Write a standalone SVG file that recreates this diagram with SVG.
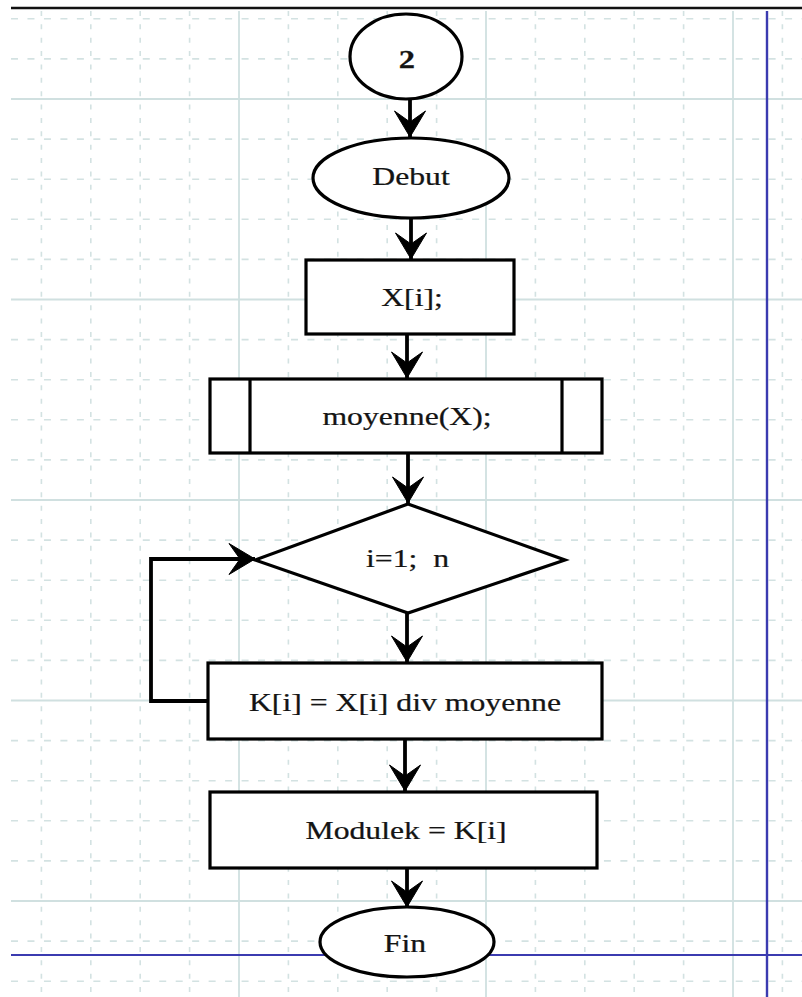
<svg xmlns="http://www.w3.org/2000/svg" width="802" height="997" viewBox="0 0 802 997">
  <style>
    .gd { stroke: #d3e2e2; stroke-width: 1.6; fill: none; }
    .gh { stroke-dasharray: 7 9.47; }
    .gv { stroke-dasharray: 5 8.37; }
    .gs { stroke: #d0e0e0; stroke-width: 1.8; fill: none; }
    .shape { fill: #ffffff; stroke: #000000; stroke-width: 3.2; }
    .conn { fill: none; stroke: #000000; stroke-width: 3.8; }
    .lbl { font-family: "Liberation Serif", "Times New Roman", serif; font-size: 26px; fill: #141414; text-anchor: middle; stroke: #141414; stroke-width: 0.25; }
  </style>
  <defs>
    <marker id="arrow" markerUnits="userSpaceOnUse" markerWidth="30" markerHeight="34" viewBox="-28 -17 30 34" refX="0" refY="0" orient="auto">
      <path d="M0,0 L-26,-15.5 L-15,0 L-26,15.5 Z" fill="#000000" stroke="#000000" stroke-width="1" stroke-linejoin="round"/>
    </marker>
  </defs>

  <rect x="0" y="0" width="802" height="997" fill="#ffffff"/>

  <!-- background grid -->
  <g id="grid">
    <g class="gd gh">
      <line x1="11" y1="18.8" x2="802" y2="18.8"/>
      <line x1="11" y1="58.9" x2="802" y2="58.9"/>
      <line x1="11" y1="139.1" x2="802" y2="139.1"/>
      <line x1="11" y1="179.2" x2="802" y2="179.2"/>
      <line x1="11" y1="219.3" x2="802" y2="219.3"/>
      <line x1="11" y1="259.4" x2="802" y2="259.4"/>
      <line x1="11" y1="339.6" x2="802" y2="339.6"/>
      <line x1="11" y1="379.7" x2="802" y2="379.7"/>
      <line x1="11" y1="419.8" x2="802" y2="419.8"/>
      <line x1="11" y1="459.9" x2="802" y2="459.9"/>
      <line x1="11" y1="540.1" x2="802" y2="540.1"/>
      <line x1="11" y1="580.2" x2="802" y2="580.2"/>
      <line x1="11" y1="620.3" x2="802" y2="620.3"/>
      <line x1="11" y1="660.4" x2="802" y2="660.4"/>
      <line x1="11" y1="740.6" x2="802" y2="740.6"/>
      <line x1="11" y1="780.7" x2="802" y2="780.7"/>
      <line x1="11" y1="820.8" x2="802" y2="820.8"/>
      <line x1="11" y1="860.9" x2="802" y2="860.9"/>
      <line x1="11" y1="941.1" x2="802" y2="941.1"/>
      <line x1="11" y1="981.2" x2="802" y2="981.2"/>
    </g>
    <g class="gd gv">
      <line x1="41.4" y1="11" x2="41.4" y2="997"/>
      <line x1="90.8" y1="11" x2="90.8" y2="997"/>
      <line x1="140.2" y1="11" x2="140.2" y2="997"/>
      <line x1="189.6" y1="11" x2="189.6" y2="997"/>
      <line x1="288.4" y1="11" x2="288.4" y2="997"/>
      <line x1="337.8" y1="11" x2="337.8" y2="997"/>
      <line x1="387.2" y1="11" x2="387.2" y2="997"/>
      <line x1="436.6" y1="11" x2="436.6" y2="997"/>
      <line x1="535.4" y1="11" x2="535.4" y2="997"/>
      <line x1="584.8" y1="11" x2="584.8" y2="997"/>
      <line x1="634.2" y1="11" x2="634.2" y2="997"/>
      <line x1="683.6" y1="11" x2="683.6" y2="997"/>
      <line x1="782.4" y1="11" x2="782.4" y2="997"/>
    </g>
    <g class="gs">
      <line x1="11" y1="99" x2="802" y2="99"/>
      <line x1="11" y1="299.5" x2="802" y2="299.5"/>
      <line x1="11" y1="500" x2="802" y2="500"/>
      <line x1="11" y1="700.5" x2="802" y2="700.5"/>
      <line x1="11" y1="901" x2="802" y2="901"/>
      <line x1="239" y1="11" x2="239" y2="997"/>
      <line x1="486" y1="11" x2="486" y2="997"/>
      <line x1="733" y1="11" x2="733" y2="997"/>
    </g>
    <!-- page margins -->
    <line x1="11" y1="8" x2="802" y2="8" stroke="#111111" stroke-width="2.4"/>
    <line x1="11" y1="955" x2="802" y2="955" stroke="#3b3bb0" stroke-width="2.2"/>
    <line x1="767" y1="11" x2="767" y2="997" stroke="#3b3bb0" stroke-width="2.4"/>
  </g>

  <!-- connectors -->
  <g id="connectors" class="conn">
    <line x1="410" y1="99" x2="410" y2="137" marker-end="url(#arrow)"/>
    <line x1="411" y1="218" x2="411" y2="259" marker-end="url(#arrow)"/>
    <line x1="407" y1="334" x2="407" y2="378" marker-end="url(#arrow)"/>
    <line x1="408" y1="453" x2="408" y2="503" marker-end="url(#arrow)"/>
    <line x1="407" y1="613" x2="407" y2="662" marker-end="url(#arrow)"/>
    <line x1="405" y1="739" x2="405" y2="791" marker-end="url(#arrow)"/>
    <line x1="407" y1="868" x2="407" y2="907" marker-end="url(#arrow)"/>
    <polyline points="208,701 151,701 151,559 255,559" marker-end="url(#arrow)"/>
  </g>

  <!-- nodes -->
  <g id="connector-2">
    <ellipse class="shape" cx="406" cy="56.5" rx="56" ry="42.5"/>
    <text class="lbl" font-weight="bold" font-size="28px" transform="translate(407,68) scale(1.25,1)">2</text>
  </g>

  <g id="debut">
    <ellipse class="shape" cx="411" cy="178" rx="98" ry="40"/>
    <text class="lbl" transform="translate(411,185) scale(1.22,1)">Debut</text>
  </g>

  <g id="input-x">
    <rect class="shape" x="306" y="260" width="208" height="74"/>
    <text class="lbl" transform="translate(412,306) scale(1.22,1)">X[i];</text>
  </g>

  <g id="moyenne">
    <rect class="shape" x="210" y="379" width="392" height="74"/>
    <line x1="250" y1="379" x2="250" y2="453" stroke="#000" stroke-width="3.2"/>
    <line x1="562" y1="379" x2="562" y2="453" stroke="#000" stroke-width="3.2"/>
    <text class="lbl" transform="translate(407,425) scale(1.22,1)">moyenne(X);</text>
  </g>

  <g id="loop">
    <polygon class="shape" points="408,504 565,560 408,613 255,560"/>
    <text class="lbl" xml:space="preserve" transform="translate(407.5,567) scale(1.22,1)">i=1;  n</text>
  </g>

  <g id="compute-k">
    <rect class="shape" x="208" y="663" width="394" height="76"/>
    <text class="lbl" transform="translate(405,711) scale(1.22,1)">K[i] = X[i] div moyenne</text>
  </g>

  <g id="modulek">
    <rect class="shape" x="210" y="792" width="387" height="76"/>
    <text class="lbl" transform="translate(406,839) scale(1.22,1)">Modulek = K[i]</text>
  </g>

  <g id="fin">
    <ellipse class="shape" cx="407" cy="942" rx="87" ry="35"/>
    <text class="lbl" transform="translate(405,952) scale(1.22,1)">Fin</text>
  </g>
</svg>
